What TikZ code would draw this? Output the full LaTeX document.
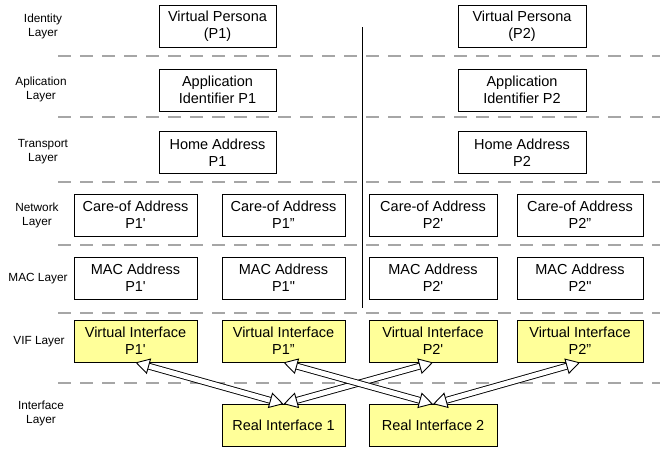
\documentclass[tikz,border=0pt]{standalone}
\usepackage{fontspec}
\setmainfont{Liberation Sans}
\usetikzlibrary{arrows.meta,positioning}

\definecolor{vifyellow}{RGB}{255,255,153}

\begin{document}
\begin{tikzpicture}[x=1pt,y=-1pt,
  layerbox/.style={draw, line width=0.9pt, minimum height=42pt, inner sep=1pt, align=center, font=\fontsize{14.5}{17}\selectfont},
  vifbox/.style={layerbox, fill=vifyellow},
  layername/.style={align=center, font=\fontsize{11.8}{14}\selectfont},
  sepline/.style={draw=gray!70, line width=1.8pt, dash pattern=on 13pt off 9pt},
  vifarrow/.style={draw, line width=0.9pt, double=white, double distance=5pt,
    {Triangle[fill=white,length=14pt,width=16pt]}-{Triangle[fill=white,length=14pt,width=16pt]}}]

\useasboundingbox (0,0) rectangle (660,448);

%% layer names down the left margin
\foreach \lname/\lx/\ly [count=\ni] in {
  Identity\\Layer/43/26,
  Aplication\\Layer/41/89,
  Transport\\Layer/43/152,
  Network\\Layer/37/215,
  MAC Layer/38/279,
  VIF Layer/39/342,
  Interface\\Layer/41/413}
  \node[layername] (layer\ni) at (\lx,\ly) {\lname};

%% dashed separators
\foreach \sy in {56,117,182,245,313,383}
  \draw[sepline] (58,\sy) -- (660,\sy);

%% persona, application and home address (one per persona)
\def\pcols{217.5/117/1, 522/128/2}
\foreach \px/\w/\p in \pcols
{
  \node[layerbox, minimum width=\w] (pers\p) at (\px,26.5) {Virtual Persona\\(P\p)};
  \node[layerbox, minimum width=\w] (app\p)  at (\px,90)   {Application\\Identifier P\p};
  \node[layerbox, minimum width=\w] (home\p) at (\px,152.5) {Home Address\\P\p};
}

%% care-of, MAC and virtual interface (two per persona)
\foreach \px/\w/\ctag/\mtag [count=\ni] in {
  135.5/123/P1\textquotesingle/P1\textquotesingle,
  283.5/123/P1''/P1\textquotedbl,
  433/128/P2\textquotesingle/P2\textquotesingle,
  580/126/P2''/P2\textquotedbl}
{
  \node[layerbox, minimum width=\w] (coa\ni) at (\px,215) {Care-of Address\\\ctag};
  \node[layerbox, minimum width=\w] (mac\ni) at (\px,278) {MAC Address\\\mtag};
  \node[vifbox,   minimum width=\w] (vif\ni) at (\px,341) {Virtual Interface\\\ctag};
}

%% real interfaces
\node[vifbox, minimum width=123] (real1) at (283.5,425.5) {Real Interface 1};
\node[vifbox, minimum width=128] (real2) at (433,425.5) {Real Interface 2};

%% split between the two personas
\coordinate (splittop) at (362,27);
\coordinate (splitbot) at (362,308);
\draw[line width=0.9pt] (splittop) -- (splitbot);

%% mapping of real to virtual interfaces
\draw[vifarrow] (real1.north) -- (vif1.south);
\draw[vifarrow] (real1.north) -- (vif3.south);
\draw[vifarrow] (real2.north) -- (vif2.south);
\draw[vifarrow] (real2.north) -- (vif4.south);

\end{tikzpicture}
\end{document}
